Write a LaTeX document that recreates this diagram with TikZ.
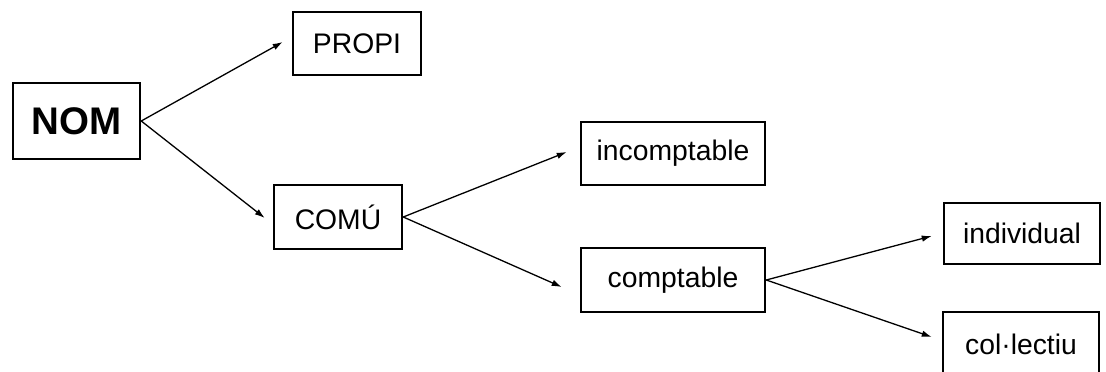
\documentclass[tikz,border=0pt]{standalone}
\usepackage{fontspec}
\setmainfont{Liberation Sans}
\usetikzlibrary{arrows.meta,calc}
\begin{document}
\begin{tikzpicture}[x=1pt,y=-1pt,
  box/.style={draw=black,line width=2.5pt,inner sep=0pt,font=\fontsize{28.3}{31}\selectfont},
  conn/.style={line width=1.3pt,-{Latex[length=10pt,width=6.5pt]}}]
\clip (0,0) rectangle (1106,372);
\fill[white] (0,0) rectangle (1106,372);
\node[box,minimum width=127pt,minimum height=76pt,font=\fontsize{38.5}{42}\selectfont\bfseries] (nom) at (76.5,121) {NOM};
\node[box,minimum width=128pt,minimum height=63pt] (propi) at (357,43.5) {PROPI};
\node[box,minimum width=128pt,minimum height=64pt] (comu) at (338,217) {COMÚ};
\node[box,minimum width=184pt,minimum height=63pt] (incomp) at (673,153.5) {incomptable};
\node[box,minimum width=184pt,minimum height=64pt] (comp) at (673,280) {comptable};
\node[box,minimum width=156pt,minimum height=61pt] (indiv) at (1022,233.5) {individual};
\node[box,minimum width=156pt,minimum height=66pt,text depth=0pt] (colec) at (1021,345) {\raisebox{2pt}{col·lectiu}};
\draw[conn] (nom.east) -- ($(propi.west)+(-9,-1.5)$);
\draw[conn] (nom.east) -- ($(comu.west)+(-8,1)$);
\draw[conn] (comu.east) -- ($(incomp.west)+(-13,-1.5)$);
\draw[conn] (comu.east) -- ($(comp.west)+(-18,7)$);
\draw[conn] (comp.east) -- ($(indiv.west)+(-11,2.5)$);
\draw[conn] (comp.east) -- ($(colec.west)+(-10,-8)$);
\end{tikzpicture}
\end{document}
